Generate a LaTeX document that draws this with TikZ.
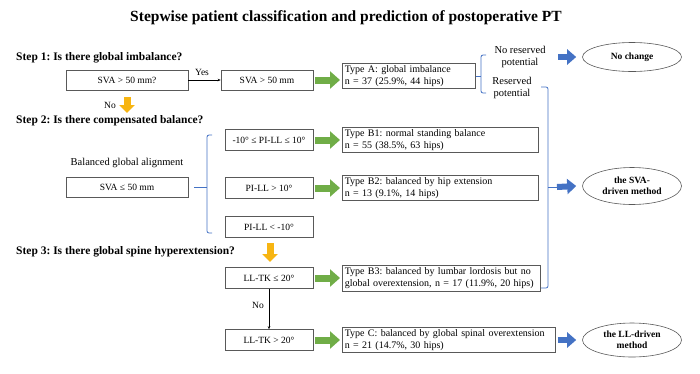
\documentclass[tikz,border=0pt]{standalone}
\usepackage{fontspec}
\setmainfont{Liberation Serif}
\usetikzlibrary{arrows.meta,shapes.geometric}
\definecolor{boxgray}{HTML}{595959}
\definecolor{arrgreen}{HTML}{70AD47}
\definecolor{arrblue}{HTML}{4472C4}
\definecolor{arrorange}{HTML}{F7B512}
\frenchspacing

\begin{document}
\begin{tikzpicture}[x=1pt,y=-1pt]
			\tikzset{box/.style = {draw=boxgray,line width=0.6pt,minimum height=20pt,
					inner sep=2pt,font=\fontsize{9.5}{11}\selectfont}}
			\tikzset{typebox/.style = {draw=boxgray,line width=0.6pt,anchor=west,align=left,
					inner sep=2.5pt,font=\fontsize{10}{11.5}\selectfont}}
			\tikzset{result/.style = {ellipse,draw=boxgray,line width=0.6pt,minimum width=99pt,
					inner sep=0pt,align=center,font=\bfseries\fontsize{9.5}{11}\selectfont}}
			\tikzset{steplabel/.style = {anchor=west,inner sep=0pt,font=\bfseries\fontsize{11.5}{13}\selectfont}}
			\tikzset{note/.style = {inner sep=0pt,align=center,font=\fontsize{10.5}{12}\selectfont}}
			\tikzset{small/.style = {inner sep=0pt,font=\fontsize{9.5}{11}\selectfont}}
			\tikzset{edge/.style = {line width=0.6pt,-{Stealth[length=3pt,width=2.5pt]}}}
			\tikzset{greenarrow/.style = {arrgreen,line width=7pt,-{Triangle[length=10pt,width=17pt]},
					shorten <=2pt,shorten >=2pt}}
			\tikzset{bluearrow/.style = {arrblue,line width=6pt,-{Triangle[length=9pt,width=15pt]}}}
			\tikzset{orangearrow/.style = {arrorange,line width=7pt,-{Triangle[length=8pt,width=15pt]}}}
			\tikzset{blueline/.style = {arrblue,line width=0.8pt,rounded corners=2pt}}
			\useasboundingbox (0,0) rectangle (700,373);
			% title and steps
			\node (title) at (346,18) {\bfseries\fontsize{15.5}{18}\selectfont Stepwise patient classification and prediction of postoperative PT};
			\node[steplabel] (s1) at (16,58) {Step 1: Is there global imbalance?};
			\node[steplabel] (s2) at (16,121) {Step 2: Is there compensated balance?};
			\node[steplabel] (s3) at (16,252) {Step 3: Is there global spine hyperextension?};
			
			% step 1
			\node[box,minimum width=122pt] (q1) at (127,80) {SVA > 50 mm?};
			\node[box,minimum width=92pt] (imb) at (267,80) {SVA > 50 mm};
			\node[typebox,text width=128pt] (tA) at (342,76) {Type A: global imbalance\\n = 37 (25.9\%, 44 hips)};
			\node[note] (nores) at (520,57) {No reserved\\potential};
			\node[note] (res) at (512,88) {Reserved\\potential};
			\node[result,minimum height=29pt] (noch) at (632,57) {No change};
			\node[small] (yes) at (202,72) {Yes};
			\node[small] (no1) at (110,105) {No};
			\coordinate (o1) at (127,97);
			\coordinate (o2) at (127,113);
			
			% step 2
			\node[note] (bal) at (127,163) {Balanced global alignment};
			\node[box,minimum width=122pt] (q2) at (127,187) {SVA ≤ 50 mm};
			\node[box,minimum width=88pt,minimum height=21pt] (c1) at (269,140) {-10° ≤ PI-LL ≤ 10°};
			\node[box,minimum width=88pt,minimum height=21pt] (c2) at (269,188) {PI-LL > 10°};
			\node[box,minimum width=88pt,minimum height=21pt] (c3) at (269,227) {PI-LL < -10°};
			\node[typebox,text width=191pt] (tB1) at (342,140) {Type B1: normal standing balance\\n = 55 (38.5\%, 63 hips)};
			\node[typebox,text width=191pt] (tB2) at (342,188) {Type B2: balanced by hip extension\\n = 13 (9.1\%, 14 hips)};
			\node[result,minimum height=37pt] (sva) at (632,186) {the SVA-\\driven method};
			
			% step 3
			\coordinate (o3) at (270,243);
			\coordinate (o4) at (270,262);
			\node[box,minimum width=88pt,minimum height=21pt] (c4) at (269,278) {LL-TK ≤ 20°};
			\node[box,minimum width=88pt,minimum height=21pt] (c5) at (269,340) {LL-TK > 20°};
			\node[small] (no2) at (258,305) {No};
			\node[typebox,text width=193pt] (tB3) at (342,278) {Type B3: balanced by lumbar lordosis but no\\global overextension, n = 17 (11.9\%, 20 hips)};
			\node[typebox,text width=208pt] (tC) at (342,340) {Type C: balanced by global spinal overextension\\n = 21 (14.7\%, 30 hips)};
			\node[result,minimum height=34pt] (ll) at (632,340) {the LL-driven\\method};
			
			%edges
			\draw[edge] (q1) to (imb);
			\draw[edge] (c4) to (c5);
			\draw[orangearrow] (o1) to (o2);
			\draw[orangearrow] (o3) to (o4);
			\draw[greenarrow] (imb) to (imb -| tA.west);
			\draw[greenarrow] (c1) to (tB1);
			\draw[greenarrow] (c2) to (tB2);
			\draw[greenarrow] (c4) to (tB3);
			\draw[greenarrow] (c5) to (tC);
			
			% brackets
			\draw[blueline] (tA.east) -- (481,76);
			\draw[blueline] (486,55) -- (481,55) -- (481,93) -- (486,93);
			\draw[blueline] (194,187) -- (207,187);
			\draw[blueline] (212,135) -- (207,135) -- (207,233) -- (212,233);
			\coordinate (r1) at (548,187);
			\coordinate (r2) at (557,187);
			\draw[blueline] (541,87) -- (548,87) -- (548,288) -- (541,288);
			\draw[blueline] (r1) -- (r2);
			\draw[bluearrow] (r2) to ([xshift=-6pt]sva.west);
			\draw[bluearrow] (558,57) to ([xshift=-6pt]noch.west);
			\draw[bluearrow,shorten <=2pt] (tC) to ([xshift=-6pt]ll.west);
			\end{tikzpicture}
\end{document}
